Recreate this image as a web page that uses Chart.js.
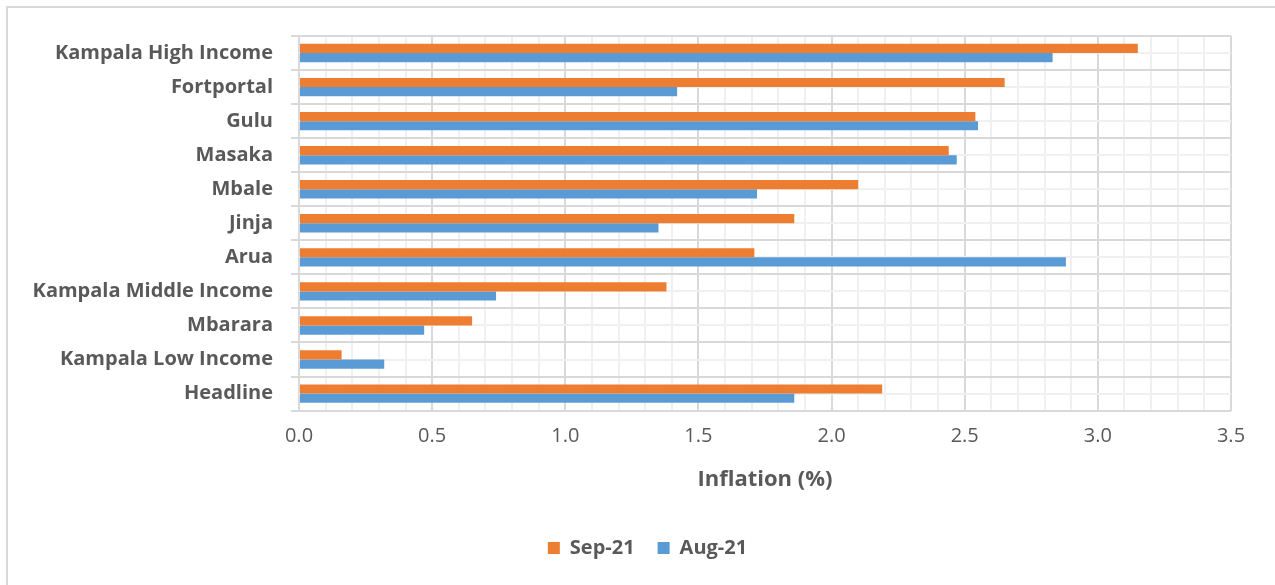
<!DOCTYPE html>
<html>
<head>
<meta charset="utf-8">
<script src="https://cdn.jsdelivr.net/npm/chart.js@4"></script>
<style>
  html, body { margin: 0; padding: 0; background: #fff; overflow: hidden; }
  .frame { position: absolute; left: 6px; top: 6px; width: 1300px; height: 600px; border: 2px solid #d9d9d9; box-sizing: border-box; }
  .chart { position: absolute; left: 0; top: 0; width: 1275px; height: 585px; }
</style>
</head>
<body>
<div class="frame"></div>
<div class="chart"><canvas id="myChart"></canvas></div>
<script>
const regions = ['Kampala High Income', 'Fortportal', 'Gulu', 'Masaka', 'Mbale', 'Jinja', 'Arua',
   'Kampala Middle Income', 'Mbarara', 'Kampala Low Income', 'Headline'];
const sep21 = [3.15, 2.65, 2.54, 2.44, 2.10, 1.86, 1.71, 1.38, 0.65, 0.16, 2.19];
const aug21 = [2.83, 1.42, 2.55, 2.47, 1.72, 1.35, 2.88, 0.74, 0.47, 0.32, 1.86];

const textColor = '#595959';
const isMajor = (v) => Math.round(v * 10) % 5 === 0;

// light lines through the middle of each category, like Excel's minor gridlines
const minorRows = {
   id: 'minorRows',
   afterLayout(chart) {
      // legend sits a bit right of the canvas centre in the original
      chart.legend.left += 22;
      chart.legend.right += 22;
   },
   beforeDatasetsDraw(chart) {
      const y = chart.scales.y;
      const area = chart.chartArea;
      const ctx = chart.ctx;
      ctx.save();
      ctx.strokeStyle = '#f0f0f0';
      ctx.lineWidth = 2;
      regions.forEach((r, i) => {
         const py = Math.round(y.getPixelForValue(i));
         ctx.beginPath();
         ctx.moveTo(area.left, py);
         ctx.lineTo(area.right, py);
         ctx.stroke();
      });
      ctx.restore();
   }
};

const data = {
   labels: regions,
   datasets: [{
      label: 'Sep-21',
      data: sep21,
      backgroundColor: '#ed7d31',
      barPercentage: 1.0,
      categoryPercentage: 0.54,
   }, {
      label: 'Aug-21',
      data: aug21,
      backgroundColor: '#5b9bd5',
      barPercentage: 1.0,
      categoryPercentage: 0.54,
   }]
};

const config = {
   type: 'bar',
   data: data,
   plugins: [minorRows],
   options: {
      indexAxis: 'y',
      responsive: false,
      animation: false,
      layout: {
         padding: { left: 20, right: 44, top: 36, bottom: 17 }
      },
      scales: {
         x: {
            type: 'linear',
            min: 0,
            max: 3.5,
            border: { display: false },
            grid: {
               drawTicks: false,
               lineWidth: 2,
               color: (ctx) => isMajor(ctx.tick.value) ? '#d9d9d9' : '#f0f0f0',
            },
            ticks: {
               stepSize: 0.1,
               autoSkip: false,
               maxRotation: 0,
               padding: 14,
               color: textColor,
               font: { family: 'Open Sans', size: 20 },
               callback: (v) => isMajor(v) ? Number(v).toFixed(1) : '',
            },
            title: {
               display: true,
               text: 'Inflation (%)',
               color: textColor,
               font: { family: 'Open Sans', size: 22, weight: 'bold' },
               padding: { top: 4, bottom: 22 },
            }
         },
         y: {
            offset: true,
            afterFit: (scale) => { scale.width = 279; },
            border: { display: true, color: '#d9d9d9', width: 2 },
            grid: {
               offset: true,
               lineWidth: 2,
               color: '#d9d9d9',
               tickLength: 8,
            },
            ticks: {
               padding: 18,
               color: textColor,
               font: { family: 'Open Sans', size: 20, weight: 'bold' },
            }
         }
      },
      plugins: {
         legend: {
            position: 'bottom',
            labels: {
               color: textColor,
               boxWidth: 12,
               boxHeight: 12,
               padding: 23,
               font: { family: 'Open Sans', size: 20, weight: 'bold' },
            }
         },
         tooltip: { enabled: false }
      }
   }
};

const canvas = document.getElementById('myChart');
canvas.width = 1275;
canvas.height = 585;
const myChart = new Chart(canvas, config);
</script>
</body>
</html>
